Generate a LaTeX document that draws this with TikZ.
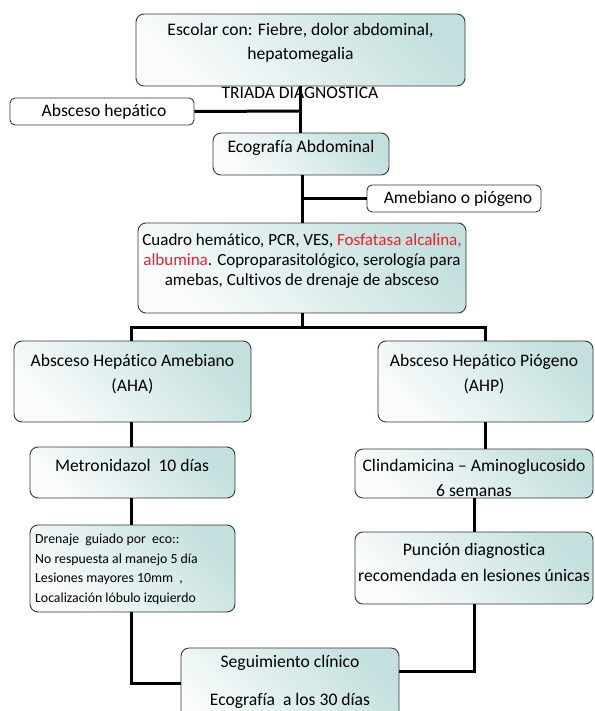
\documentclass[tikz,border=0pt]{standalone}
\usepackage{fontspec}
\setmainfont{Carlito}[Ligatures=NoCommon]
\definecolor{tealA}{RGB}{196,224,222}
\definecolor{tealB}{RGB}{250,252,252}
\definecolor{edgec}{RGB}{55,55,55}
\definecolor{redt}{RGB}{232,34,44}
\begin{document}
\begin{tikzpicture}[x=1pt,y=-1pt,
  box/.style={draw=edgec, line width=0.9pt, rounded corners=8pt, inner sep=0pt,
    top color=tealA, bottom color=tealB, shading angle=-45},
  wbox/.style={draw=edgec, line width=0.9pt, rounded corners=5pt, inner sep=0pt, fill=white},
  txt/.style={inner sep=0pt, align=center, font=\fontsize{17.6}{24}\selectfont},
  conn/.style={line width=3pt, black, line join=miter}]
\useasboundingbox (0,0) rectangle (594,711);
\clip (0,0) rectangle (594,711);
% boxes
\node[box, minimum width=329pt, minimum height=72pt] (top) at (300.5,50) {};
\node[wbox, minimum width=184pt, minimum height=27pt] (abs) at (102,111.5) {};
\node[box, minimum width=176pt, minimum height=42pt] (eco) at (301,154) {};
\node[wbox, minimum width=174pt, minimum height=27pt] (ameb) at (454,198.5) {};
\node[box, minimum width=328pt, minimum height=90pt] (cua) at (302,268) {};
\node[box, minimum width=237pt, minimum height=81pt] (aha) at (132.5,381.5) {};
\node[box, minimum width=215pt, minimum height=81pt] (ahp) at (485.5,381.5) {};
\node[box, minimum width=205pt, minimum height=51pt] (met) at (132.5,472.5) {};
\node[box, minimum width=238pt, minimum height=49pt] (cli) at (474,473.5) {};
\node[box, minimum width=205pt, minimum height=87pt] (dre) at (132.5,568.5) {};
\node[box, minimum width=238pt, minimum height=72pt] (pun) at (474,568) {};
\node[box, minimum width=218pt, minimum height=92pt] (seg) at (290,694) {};
\node[txt, font=\fontsize{17.5}{18}\selectfont] (ttri) at (300,93) {TRIADA DIAGNOSTICA};
% connectors
\coordinate (j1) at (300,111);
\coordinate (j2) at (302,198.5);
\coordinate (j3) at (302,327);
\draw[conn] (top.south -| j1) -- (eco.north -| j1);
\draw[conn] (abs.east) -- (j1);
\draw[conn] (eco.south -| j2) -- (cua.north -| j2);
\draw[conn] (j2) -- (ameb.west);
\draw[conn] (cua.south -| j3) -- (j3);
\draw[conn] (aha.north -| 131,0) -- (131,327) -- (485,327) -- (ahp.north -| 485,0);
\draw[conn] (aha.south -| 131,0) -- (met.north -| 131,0);
\draw[conn] (met.south -| 131,0) -- (dre.north -| 131,0);
\draw[conn] (dre.south -| 131,0) -- (131,683) -- (seg.west |- 0,683);
\draw[conn] (ahp.south -| 485,0) -- (cli.north -| 485,0);
\draw[conn] (cli.south -| 474,0) -- (pun.north -| 474,0);
\draw[conn] (pun.south -| 474,0) -- (474,671) -- (seg.east |- 0,671);
% texts
\node[txt] (ttop) at (300.5,43) {Escolar con: Fiebre, dolor abdominal,\\hepatomegalia};
\node[txt] (tabs) at (104,111.5) {Absceso hepático};
\node[txt] (teco) at (301,148) {Ecografía Abdominal};
\node[txt] (tameb) at (458,198.5) {Amebiano o piógeno};
\node[txt, font=\fontsize{17}{20}\selectfont] (tcua) at (302,261) {Cuadro hemático, PCR, VES, \textcolor{redt}{Fosfatasa alcalina,}\\\textcolor{redt}{albumina}. Coproparasitológico, serología para\\amebas, Cultivos de drenaje de absceso};
\node[txt, font=\fontsize{17.6}{25}\selectfont] (taha) at (132.5,374.5) {Absceso Hepático Amebiano\\(AHA)};
\node[txt, font=\fontsize{17.6}{25}\selectfont] (tahp) at (484,374.5) {Absceso Hepático Piógeno\\(AHP)};
\node[txt] (tmet) at (132,465) {Metronidazol\ \ 10 días};
\node[txt, font=\fontsize{17.6}{25}\selectfont] (tcli) at (474,477.5) {Clindamicina – Aminoglucosido\\6 semanas};
\node[txt, anchor=west, align=left, font=\fontsize{13.8}{19.5}\selectfont] (tdre) at (35,569.5) {Drenaje\ \ guiado por\ \ eco::\\No respuesta al manejo 5 día\\Lesiones mayores 10mm\ \ ,\\Localización lóbulo izquierdo};
\node[txt, font=\fontsize{17.6}{26}\selectfont] (tpun) at (474,562) {Punción diagnostica\\recomendada en lesiones únicas};
\node[txt, font=\fontsize{17.6}{38}\selectfont] (tseg) at (290,682) {Seguimiento clínico\\Ecografía\ \ a los 30 días};
\end{tikzpicture}
\end{document}
